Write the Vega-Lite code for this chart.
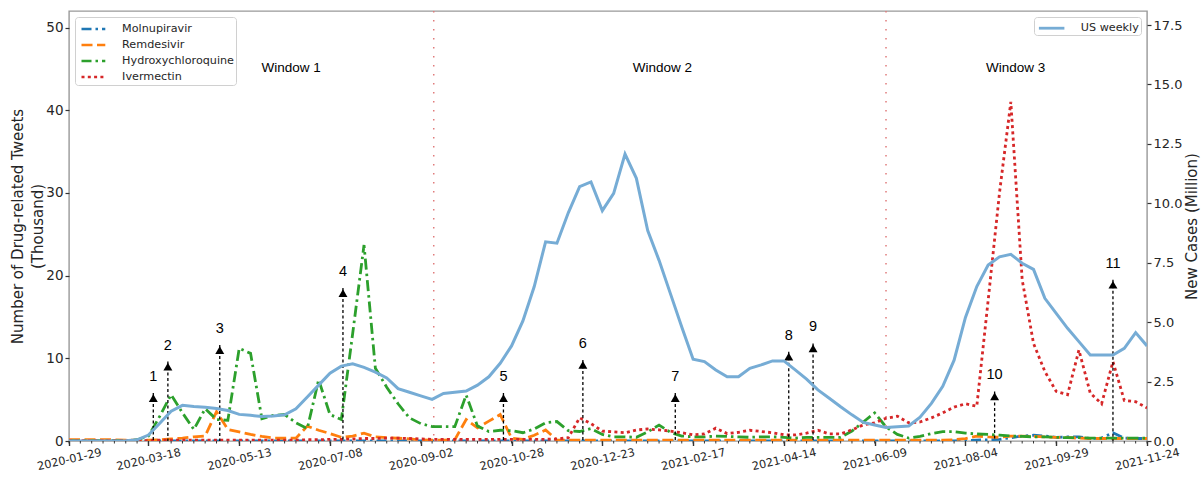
{
  "$schema": "https://vega.github.io/schema/vega-lite/v6.json",
  "width": 1078,
  "height": 430,
  "autosize": {"type": "none"},
  "padding": {"left": 69, "top": 11, "right": 54, "bottom": 40},
  "background": "white",
  "config": {
    "view": {"stroke": "#999999", "strokeWidth": 1.4},
    "axis": {"domain": false, "grid": false, "labelFont": "DejaVu Sans", "titleFont": "DejaVu Sans", "titleFontWeight": "normal", "labelColor": "#262626", "titleColor": "#262626", "tickColor": "#333333"},
    "legend": {"labelFont": "DejaVu Sans", "labelColor": "#262626"}
  },
  "datasets": {
    "weekly": [
      {"date":"2020-01-29","Molnupiravir":0,"Remdesivir":0.15,"Hydroxychloroquine":0.05,"Ivermectin":0.05,"US":0},
      {"date":"2020-02-05","Molnupiravir":0,"Remdesivir":0.15,"Hydroxychloroquine":0.05,"Ivermectin":0.05,"US":0},
      {"date":"2020-02-12","Molnupiravir":0,"Remdesivir":0.15,"Hydroxychloroquine":0.05,"Ivermectin":0.05,"US":0},
      {"date":"2020-02-19","Molnupiravir":0,"Remdesivir":0.15,"Hydroxychloroquine":0.05,"Ivermectin":0.05,"US":0},
      {"date":"2020-02-26","Molnupiravir":0,"Remdesivir":0.15,"Hydroxychloroquine":0.05,"Ivermectin":0.05,"US":0},
      {"date":"2020-03-04","Molnupiravir":0,"Remdesivir":0.1,"Hydroxychloroquine":0.05,"Ivermectin":0.05,"US":0.01},
      {"date":"2020-03-11","Molnupiravir":0,"Remdesivir":0.1,"Hydroxychloroquine":0.15,"Ivermectin":0.05,"US":0.05},
      {"date":"2020-03-18","Molnupiravir":0,"Remdesivir":0.1,"Hydroxychloroquine":0.6,"Ivermectin":0.05,"US":0.25},
      {"date":"2020-03-25","Molnupiravir":0,"Remdesivir":0.15,"Hydroxychloroquine":3.0,"Ivermectin":0.1,"US":0.75},
      {"date":"2020-04-01","Molnupiravir":0,"Remdesivir":0.25,"Hydroxychloroquine":5.6,"Ivermectin":0.1,"US":1.25},
      {"date":"2020-04-08","Molnupiravir":0,"Remdesivir":0.35,"Hydroxychloroquine":3.4,"Ivermectin":0.1,"US":1.5},
      {"date":"2020-04-15","Molnupiravir":0,"Remdesivir":0.5,"Hydroxychloroquine":1.4,"Ivermectin":0.1,"US":1.45},
      {"date":"2020-04-22","Molnupiravir":0,"Remdesivir":0.6,"Hydroxychloroquine":3.9,"Ivermectin":0.1,"US":1.42},
      {"date":"2020-04-29","Molnupiravir":0,"Remdesivir":3.55,"Hydroxychloroquine":2.6,"Ivermectin":0.1,"US":1.37},
      {"date":"2020-05-06","Molnupiravir":0,"Remdesivir":1.4,"Hydroxychloroquine":2.5,"Ivermectin":0.1,"US":1.28},
      {"date":"2020-05-13","Molnupiravir":0,"Remdesivir":1.1,"Hydroxychloroquine":11.2,"Ivermectin":0.1,"US":1.12},
      {"date":"2020-05-20","Molnupiravir":0,"Remdesivir":0.8,"Hydroxychloroquine":10.6,"Ivermectin":0.1,"US":1.08},
      {"date":"2020-05-27","Molnupiravir":0,"Remdesivir":0.55,"Hydroxychloroquine":2.7,"Ivermectin":0.1,"US":1.03},
      {"date":"2020-06-03","Molnupiravir":0,"Remdesivir":0.35,"Hydroxychloroquine":3.1,"Ivermectin":0.1,"US":1.05},
      {"date":"2020-06-10","Molnupiravir":0,"Remdesivir":0.33,"Hydroxychloroquine":3.2,"Ivermectin":0.1,"US":1.1},
      {"date":"2020-06-17","Molnupiravir":0,"Remdesivir":0.35,"Hydroxychloroquine":2.2,"Ivermectin":0.1,"US":1.35},
      {"date":"2020-06-24","Molnupiravir":0,"Remdesivir":1.8,"Hydroxychloroquine":1.5,"Ivermectin":0.15,"US":1.85},
      {"date":"2020-07-01","Molnupiravir":0,"Remdesivir":1.3,"Hydroxychloroquine":7.4,"Ivermectin":0.15,"US":2.35},
      {"date":"2020-07-08","Molnupiravir":0,"Remdesivir":0.9,"Hydroxychloroquine":3.2,"Ivermectin":0.2,"US":2.85},
      {"date":"2020-07-15","Molnupiravir":0,"Remdesivir":0.45,"Hydroxychloroquine":2.6,"Ivermectin":0.2,"US":3.15},
      {"date":"2020-07-22","Molnupiravir":0,"Remdesivir":0.6,"Hydroxychloroquine":13,"Ivermectin":0.25,"US":3.25},
      {"date":"2020-07-29","Molnupiravir":0,"Remdesivir":0.95,"Hydroxychloroquine":23.7,"Ivermectin":0.3,"US":3.1},
      {"date":"2020-08-05","Molnupiravir":0,"Remdesivir":0.5,"Hydroxychloroquine":8.8,"Ivermectin":0.3,"US":2.9},
      {"date":"2020-08-12","Molnupiravir":0,"Remdesivir":0.4,"Hydroxychloroquine":6.5,"Ivermectin":0.35,"US":2.65},
      {"date":"2020-08-19","Molnupiravir":0,"Remdesivir":0.33,"Hydroxychloroquine":4.5,"Ivermectin":0.35,"US":2.2},
      {"date":"2020-08-26","Molnupiravir":0,"Remdesivir":0.25,"Hydroxychloroquine":2.8,"Ivermectin":0.3,"US":2.05},
      {"date":"2020-09-02","Molnupiravir":0,"Remdesivir":0.15,"Hydroxychloroquine":2.1,"Ivermectin":0.25,"US":1.9},
      {"date":"2020-09-09","Molnupiravir":0,"Remdesivir":0.1,"Hydroxychloroquine":1.75,"Ivermectin":0.2,"US":1.75},
      {"date":"2020-09-16","Molnupiravir":0,"Remdesivir":0.1,"Hydroxychloroquine":1.75,"Ivermectin":0.2,"US":2.0},
      {"date":"2020-09-23","Molnupiravir":0,"Remdesivir":0.15,"Hydroxychloroquine":1.73,"Ivermectin":0.2,"US":2.05},
      {"date":"2020-09-30","Molnupiravir":0,"Remdesivir":2.6,"Hydroxychloroquine":5.56,"Ivermectin":0.2,"US":2.1},
      {"date":"2020-10-07","Molnupiravir":0,"Remdesivir":1.6,"Hydroxychloroquine":1.8,"Ivermectin":0.2,"US":2.35},
      {"date":"2020-10-14","Molnupiravir":0,"Remdesivir":2.4,"Hydroxychloroquine":1.15,"Ivermectin":0.2,"US":2.7},
      {"date":"2020-10-21","Molnupiravir":0,"Remdesivir":3.2,"Hydroxychloroquine":1.3,"Ivermectin":0.2,"US":3.27},
      {"date":"2020-10-28","Molnupiravir":0,"Remdesivir":0.35,"Hydroxychloroquine":1.25,"Ivermectin":0.2,"US":4.0},
      {"date":"2020-11-04","Molnupiravir":0,"Remdesivir":0.2,"Hydroxychloroquine":1.0,"Ivermectin":0.2,"US":5.05},
      {"date":"2020-11-11","Molnupiravir":0,"Remdesivir":0.7,"Hydroxychloroquine":1.45,"Ivermectin":0.2,"US":6.5},
      {"date":"2020-11-18","Molnupiravir":0,"Remdesivir":1.33,"Hydroxychloroquine":2.2,"Ivermectin":0.2,"US":8.38},
      {"date":"2020-11-25","Molnupiravir":0,"Remdesivir":0.1,"Hydroxychloroquine":2.35,"Ivermectin":0.25,"US":8.32},
      {"date":"2020-12-02","Molnupiravir":0,"Remdesivir":0.1,"Hydroxychloroquine":1.25,"Ivermectin":0.4,"US":9.6},
      {"date":"2020-12-09","Molnupiravir":0,"Remdesivir":0.1,"Hydroxychloroquine":1.15,"Ivermectin":2.8,"US":10.7},
      {"date":"2020-12-16","Molnupiravir":0,"Remdesivir":0.1,"Hydroxychloroquine":1.5,"Ivermectin":2.1,"US":10.9},
      {"date":"2020-12-23","Molnupiravir":0,"Remdesivir":0.1,"Hydroxychloroquine":0.8,"Ivermectin":1.2,"US":9.69},
      {"date":"2020-12-30","Molnupiravir":0,"Remdesivir":0.1,"Hydroxychloroquine":0.5,"Ivermectin":1.1,"US":10.42},
      {"date":"2021-01-06","Molnupiravir":0,"Remdesivir":0.1,"Hydroxychloroquine":0.5,"Ivermectin":1.0,"US":12.07},
      {"date":"2021-01-13","Molnupiravir":0,"Remdesivir":0.1,"Hydroxychloroquine":0.45,"Ivermectin":1.33,"US":11.05},
      {"date":"2021-01-20","Molnupiravir":0,"Remdesivir":0.1,"Hydroxychloroquine":1.1,"Ivermectin":1.45,"US":8.85},
      {"date":"2021-01-27","Molnupiravir":0,"Remdesivir":0.1,"Hydroxychloroquine":1.93,"Ivermectin":1.35,"US":7.6},
      {"date":"2021-02-03","Molnupiravir":0,"Remdesivir":0.1,"Hydroxychloroquine":1.05,"Ivermectin":1.2,"US":6.2},
      {"date":"2021-02-10","Molnupiravir":0,"Remdesivir":0.1,"Hydroxychloroquine":0.6,"Ivermectin":1.0,"US":4.8},
      {"date":"2021-02-17","Molnupiravir":0,"Remdesivir":0.1,"Hydroxychloroquine":0.5,"Ivermectin":0.75,"US":3.44},
      {"date":"2021-02-24","Molnupiravir":0,"Remdesivir":0.1,"Hydroxychloroquine":0.5,"Ivermectin":0.85,"US":3.34},
      {"date":"2021-03-03","Molnupiravir":0,"Remdesivir":0.1,"Hydroxychloroquine":0.6,"Ivermectin":1.55,"US":2.99},
      {"date":"2021-03-10","Molnupiravir":0,"Remdesivir":0.1,"Hydroxychloroquine":0.55,"Ivermectin":0.9,"US":2.7},
      {"date":"2021-03-17","Molnupiravir":0,"Remdesivir":0.1,"Hydroxychloroquine":0.5,"Ivermectin":1.05,"US":2.7},
      {"date":"2021-03-24","Molnupiravir":0,"Remdesivir":0.1,"Hydroxychloroquine":0.45,"Ivermectin":1.3,"US":3.06},
      {"date":"2021-03-31","Molnupiravir":0,"Remdesivir":0.1,"Hydroxychloroquine":0.5,"Ivermectin":1.15,"US":3.2},
      {"date":"2021-04-07","Molnupiravir":0,"Remdesivir":0.1,"Hydroxychloroquine":0.5,"Ivermectin":1.0,"US":3.37},
      {"date":"2021-04-14","Molnupiravir":0,"Remdesivir":0.1,"Hydroxychloroquine":0.45,"Ivermectin":0.75,"US":3.37},
      {"date":"2021-04-21","Molnupiravir":0,"Remdesivir":0.1,"Hydroxychloroquine":0.35,"Ivermectin":0.73,"US":2.99},
      {"date":"2021-04-28","Molnupiravir":0,"Remdesivir":0.1,"Hydroxychloroquine":0.45,"Ivermectin":0.95,"US":2.6},
      {"date":"2021-05-05","Molnupiravir":0,"Remdesivir":0.1,"Hydroxychloroquine":0.45,"Ivermectin":1.3,"US":2.15},
      {"date":"2021-05-12","Molnupiravir":0,"Remdesivir":0.1,"Hydroxychloroquine":0.45,"Ivermectin":0.85,"US":1.8},
      {"date":"2021-05-19","Molnupiravir":0,"Remdesivir":0.1,"Hydroxychloroquine":0.45,"Ivermectin":0.85,"US":1.44},
      {"date":"2021-05-26","Molnupiravir":0,"Remdesivir":0.1,"Hydroxychloroquine":1.2,"Ivermectin":1.35,"US":1.1},
      {"date":"2021-06-02","Molnupiravir":0,"Remdesivir":0.1,"Hydroxychloroquine":2.3,"Ivermectin":1.95,"US":0.78},
      {"date":"2021-06-09","Molnupiravir":0,"Remdesivir":0.1,"Hydroxychloroquine":3.4,"Ivermectin":2.2,"US":0.67},
      {"date":"2021-06-16","Molnupiravir":0,"Remdesivir":0.1,"Hydroxychloroquine":1.7,"Ivermectin":2.75,"US":0.57},
      {"date":"2021-06-23","Molnupiravir":0,"Remdesivir":0.1,"Hydroxychloroquine":0.8,"Ivermectin":3.0,"US":0.6},
      {"date":"2021-06-30","Molnupiravir":0,"Remdesivir":0.1,"Hydroxychloroquine":0.35,"Ivermectin":2.2,"US":0.63},
      {"date":"2021-07-07","Molnupiravir":0,"Remdesivir":0.1,"Hydroxychloroquine":0.55,"Ivermectin":2.3,"US":1.0},
      {"date":"2021-07-14","Molnupiravir":0,"Remdesivir":0.1,"Hydroxychloroquine":0.9,"Ivermectin":2.8,"US":1.58},
      {"date":"2021-07-21","Molnupiravir":0,"Remdesivir":0.1,"Hydroxychloroquine":1.13,"Ivermectin":3.4,"US":2.3},
      {"date":"2021-07-28","Molnupiravir":0,"Remdesivir":0.15,"Hydroxychloroquine":1.13,"Ivermectin":4.1,"US":3.4},
      {"date":"2021-08-04","Molnupiravir":0.05,"Remdesivir":0.3,"Hydroxychloroquine":0.95,"Ivermectin":4.5,"US":5.2},
      {"date":"2021-08-11","Molnupiravir":0.1,"Remdesivir":0.6,"Hydroxychloroquine":0.85,"Ivermectin":4.2,"US":6.5},
      {"date":"2021-08-18","Molnupiravir":0.15,"Remdesivir":0.5,"Hydroxychloroquine":0.8,"Ivermectin":17,"US":7.4},
      {"date":"2021-08-25","Molnupiravir":0.2,"Remdesivir":0.45,"Hydroxychloroquine":0.7,"Ivermectin":30,"US":7.75},
      {"date":"2021-09-01","Molnupiravir":0.4,"Remdesivir":0.6,"Hydroxychloroquine":0.6,"Ivermectin":41,"US":7.85},
      {"date":"2021-09-08","Molnupiravir":0.6,"Remdesivir":0.6,"Hydroxychloroquine":0.55,"Ivermectin":19.5,"US":7.48},
      {"date":"2021-09-15","Molnupiravir":0.7,"Remdesivir":0.55,"Hydroxychloroquine":0.5,"Ivermectin":11.8,"US":7.22},
      {"date":"2021-09-22","Molnupiravir":0.6,"Remdesivir":0.5,"Hydroxychloroquine":0.5,"Ivermectin":8.4,"US":6.0},
      {"date":"2021-09-29","Molnupiravir":0.45,"Remdesivir":0.45,"Hydroxychloroquine":0.45,"Ivermectin":6.0,"US":5.37},
      {"date":"2021-10-06","Molnupiravir":0.5,"Remdesivir":0.4,"Hydroxychloroquine":0.4,"Ivermectin":5.6,"US":4.74},
      {"date":"2021-10-13","Molnupiravir":0.5,"Remdesivir":0.35,"Hydroxychloroquine":0.4,"Ivermectin":11.0,"US":4.18},
      {"date":"2021-10-20","Molnupiravir":0.3,"Remdesivir":0.3,"Hydroxychloroquine":0.35,"Ivermectin":5.8,"US":3.62},
      {"date":"2021-10-27","Molnupiravir":0.35,"Remdesivir":0.3,"Hydroxychloroquine":0.35,"Ivermectin":4.5,"US":3.62},
      {"date":"2021-11-03","Molnupiravir":1.0,"Remdesivir":0.3,"Hydroxychloroquine":0.35,"Ivermectin":9.6,"US":3.62},
      {"date":"2021-11-10","Molnupiravir":0.35,"Remdesivir":0.3,"Hydroxychloroquine":0.35,"Ivermectin":4.9,"US":3.9},
      {"date":"2021-11-17","Molnupiravir":0.3,"Remdesivir":0.3,"Hydroxychloroquine":0.35,"Ivermectin":4.75,"US":4.56},
      {"date":"2021-11-24","Molnupiravir":0.3,"Remdesivir":0.3,"Hydroxychloroquine":0.35,"Ivermectin":4.0,"US":4.0}
    ],
    "arrows": [
      {"label":"1","date":"2020-03-21","top":5.8},
      {"label":"2","date":"2020-03-30","top":9.6},
      {"label":"3","date":"2020-05-01","top":11.6},
      {"label":"4","date":"2020-07-16","top":18.5},
      {"label":"5","date":"2020-10-23","top":5.8},
      {"label":"6","date":"2020-12-11","top":9.8},
      {"label":"7","date":"2021-02-06","top":5.8},
      {"label":"8","date":"2021-04-17","top":10.8},
      {"label":"9","date":"2021-05-02","top":11.8},
      {"label":"10","date":"2021-08-22","top":6.0},
      {"label":"11","date":"2021-11-03","top":19.5}
    ],
    "windows": [
      {"label":"Window 1","date":"2020-06-14"},
      {"label":"Window 2","date":"2021-01-29"},
      {"label":"Window 3","date":"2021-09-04"}
    ],
    "cuts": [
      {"date":"2020-09-10"},
      {"date":"2021-06-16"}
    ]
  },
  "layer": [
    {
      "layer": [
        {
          "data": {"name": "cuts"},
          "mark": {"type": "rule", "color": "#e07b7b", "strokeWidth": 1.5, "strokeDash": [1.5, 7.5]},
          "encoding": {
            "x": {"field": "date", "type": "temporal"}
          }
        },
        {
          "data": {"name": "weekly"},
          "mark": {"type": "rule", "color": "#333333", "strokeWidth": 1, "y2Offset": 2.5},
          "encoding": {
            "x": {"field": "date", "type": "temporal"},
            "y": {"datum": 0, "type": "quantitative"},
            "y2": {"datum": 0}
          }
        },
        {
          "data": {"name": "weekly"},
          "transform": [{"fold": ["Molnupiravir", "Remdesivir", "Hydroxychloroquine", "Ivermectin"], "as": ["drug", "tweets"]}],
          "mark": {"type": "line", "strokeWidth": 2.8, "clip": true},
          "encoding": {
            "x": {
              "field": "date", "type": "temporal",
              "scale": {"type": "utc", "domain": ["2020-01-29", "2021-11-24"]},
              "axis": {
                "title": null,
                "values": ["2020-01-29", "2020-03-18", "2020-05-13", "2020-07-08", "2020-09-02", "2020-10-28", "2020-12-23", "2021-02-17", "2021-04-14", "2021-06-09", "2021-08-04", "2021-09-29", "2021-11-24"],
                "format": "%Y-%m-%d",
                "labelAngle": -13,
                "labelAlign": "center",
                "labelBaseline": "middle",
                "labelPadding": 14,
                "labelFontSize": 11.3,
                "tickSize": 4.5,
                "tickWidth": 1.4,
                "labelOverlap": false,
                "labelBound": false,
                "labelFlush": false
              }
            },
            "y": {
              "field": "tweets", "type": "quantitative",
              "scale": {"domain": [0, 52], "nice": false},
              "axis": {
                "title": ["Number of Drug-related Tweets", "(Thousand)"],
                "values": [0, 10, 20, 30, 40, 50],
                "labelFontSize": 13.5,
                "labelPadding": 2,
                "tickSize": 4,
                "tickWidth": 1.2,
                "titleFontSize": 15,
                "titleLineHeight": 20,
                "titleAngle": 270,
                "titleAlign": "center",
                "titleBaseline": "middle",
                "titleX": -52,
                "titleY": 215
              }
            },
            "color": {
              "field": "drug", "type": "nominal",
              "scale": {"domain": ["Molnupiravir", "Remdesivir", "Hydroxychloroquine", "Ivermectin"], "range": ["#1f77b4", "#ff7f0e", "#2ca02c", "#d62728"]},
              "legend": {
                "title": null, "orient": "top-left", "offset": 6, "padding": 2, "fillColor": "white", "strokeColor": "#d0d0d0", "cornerRadius": 3,
                "labelFontSize": 11.2, "symbolType": "M-1.4,0H1.4", "symbolSize": 289, "symbolStrokeWidth": 2.6, "rowPadding": 0, "symbolOffset": 6.4, "labelOffset": 18.7,
                "encode": {"symbols": {"update": {"strokeDash": {"signal": "datum.value === 'Remdesivir' ? [11, 4.5] : datum.value === 'Ivermectin' ? [3, 3.3] : [10, 4, 2.5, 4]"}}}}
              }
            },
            "strokeDash": {
              "field": "drug", "type": "nominal",
              "scale": {"domain": ["Molnupiravir", "Remdesivir", "Hydroxychloroquine", "Ivermectin"], "range": [[10, 4, 2.5, 4], [11, 4.5], [11, 4, 2.5, 4], [3, 3.3]]},
              "legend": null
            }
          }
        },
        {
          "data": {"name": "arrows"},
          "mark": {"type": "rule", "color": "black", "strokeWidth": 1.3, "strokeDash": [3, 2.5]},
          "encoding": {
            "x": {"field": "date", "type": "temporal"},
            "y": {"field": "top", "type": "quantitative"},
            "y2": {"datum": 0}
          }
        },
        {
          "data": {"name": "arrows"},
          "mark": {"type": "point", "shape": "triangle-up", "filled": true, "color": "black", "opacity": 1, "size": 80, "yOffset": 5},
          "encoding": {
            "x": {"field": "date", "type": "temporal"},
            "y": {"field": "top", "type": "quantitative"}
          }
        },
        {
          "data": {"name": "arrows"},
          "mark": {"type": "text", "font": "Liberation Sans", "fontSize": 14.5, "color": "black", "baseline": "middle", "align": "center", "yOffset": -16},
          "encoding": {
            "x": {"field": "date", "type": "temporal"},
            "y": {"field": "top", "type": "quantitative"},
            "text": {"field": "label", "type": "nominal"}
          }
        },
        {
          "data": {"name": "windows"},
          "mark": {"type": "text", "font": "Liberation Sans", "fontSize": 13.5, "color": "black", "baseline": "middle", "align": "center"},
          "encoding": {
            "x": {"field": "date", "type": "temporal"},
            "y": {"datum": 45.07, "type": "quantitative"},
            "text": {"field": "label", "type": "nominal"}
          }
        }
      ]
    },
    {
      "data": {"name": "weekly"},
      "mark": {"type": "line", "strokeWidth": 3, "clip": true},
      "encoding": {
        "x": {"field": "date", "type": "temporal"},
        "y": {
          "field": "US", "type": "quantitative",
          "scale": {"domain": [0, 18.09], "nice": false},
          "axis": {
            "orient": "right",
            "title": "New Cases (Million)",
            "values": [0, 2.5, 5, 7.5, 10, 12.5, 15, 17.5],
            "format": ".1f",
            "labelFontSize": 13,
            "labelPadding": 2,
            "tickSize": 4,
            "tickWidth": 1.2,
            "titleFontSize": 15,
            "titleAngle": 270,
            "titleAlign": "center",
            "titleBaseline": "middle",
            "titleX": 44,
            "titleY": 215
          }
        },
        "color": {
          "datum": "US weekly", "type": "nominal",
          "scale": {"range": ["#76acd5"]},
          "legend": {"title": null, "orient": "top-right", "offset": 6, "padding": 1.2, "fillColor": "white", "strokeColor": "#d0d0d0", "cornerRadius": 3, "labelFontSize": 11.2, "symbolType": "M-1.5,0H1.5", "symbolSize": 289, "symbolStrokeWidth": 2.8, "symbolOffset": 6.45, "labelOffset": 19.2}
        }
      }
    }
  ],
  "resolve": {"scale": {"y": "independent", "color": "independent"}}
}
